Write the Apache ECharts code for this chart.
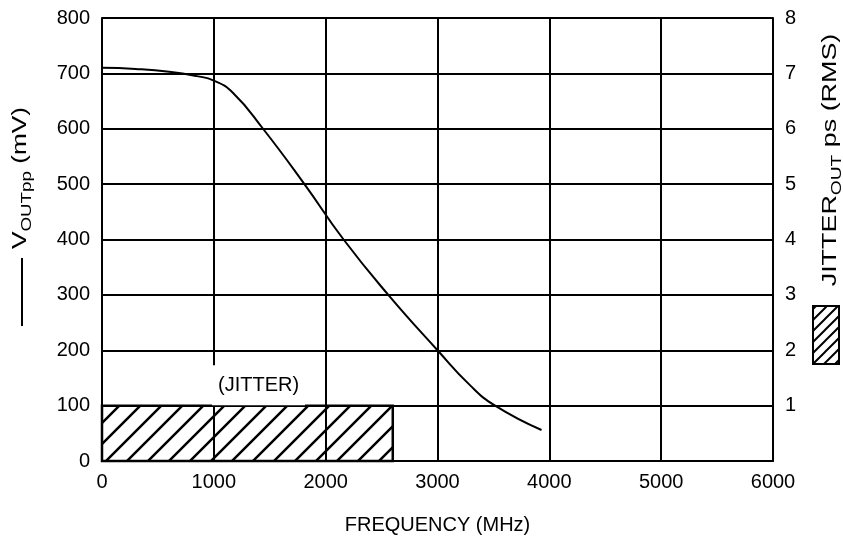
<!DOCTYPE html>
<html>
<head>
<meta charset="utf-8">
<script src="https://cdn.jsdelivr.net/npm/echarts@6/dist/echarts.min.js"></script>
<style>
html,body{margin:0;padding:0;background:#fff;}
#c{width:843px;height:537px;}
</style>
</head>
<body>
<div id="c"></div>
<script>
// ---- data ----
const freqMHz = [0, 300, 600, 850, 1000, 1170, 1440, 1810, 2160, 2560, 3000, 3290, 3515, 3930];
const voutPP  = [710, 708, 703, 695, 687, 665, 600, 500, 400, 300, 200, 137, 100, 56];
const jitterStart = [0];
const jitterEnd = [2600];
const jitterPs = [1];
const jitterLabel = ['(JITTER)'];
const jitterLabelPos = [[1400, 1.37]];
const xTicks = [0, 1000, 2000, 3000, 4000, 5000, 6000];
const leftTicks = [0, 100, 200, 300, 400, 500, 600, 700, 800];
const rightTicks = [0, 1, 2, 3, 4, 5, 6, 7, 8];

const FONT = 'Liberation Sans';
function hatch(size, lw) {
  const c = document.createElement('canvas');
  c.width = size; c.height = size;
  const g = c.getContext('2d');
  g.strokeStyle = '#000'; g.lineWidth = lw; g.lineCap = 'square';
  g.beginPath();
  g.moveTo(0, size); g.lineTo(size, 0);
  g.moveTo(-size, size); g.lineTo(size, -size);
  g.moveTo(0, 2 * size); g.lineTo(2 * size, 0);
  g.stroke();
  return c;
}
const bigHatch = { image: hatch(21, 2.5), repeat: 'repeat' };
const smallHatch = { image: hatch(11, 2), repeat: 'repeat' };

const chart = echarts.init(document.getElementById('c'), null, { renderer: 'canvas' });
const axisText = { color: '#000', fontFamily: FONT, fontSize: 20 };
const option = {
  animation: false,
  backgroundColor: '#fff',
  grid: { left: 102, right: 70, top: 18, bottom: 76, show: false, containLabel: false, outerBoundsMode: 'none' },
  xAxis: {
    type: 'value', min: xTicks[0], max: xTicks[xTicks.length - 1], interval: 1000,
    name: 'FREQUENCY (MHz)', nameLocation: 'middle', nameGap: 54,
    nameTextStyle: { color: '#000', fontFamily: FONT, fontSize: 20 },
    axisLine: { show: true, lineStyle: { color: '#000', width: 2 } },
    axisTick: { show: false },
    axisLabel: Object.assign({ margin: 11, formatter: v => String(v) }, axisText),
    splitLine: { show: true, lineStyle: { color: '#000', width: 2 } }
  },
  yAxis: [
    {
      type: 'value', min: leftTicks[0], max: leftTicks[leftTicks.length - 1], interval: 100,
      axisLine: { show: true, lineStyle: { color: '#000', width: 2 } },
      axisTick: { show: false },
      axisLabel: Object.assign({ margin: 12, formatter: v => String(v) }, axisText),
      splitLine: { show: true, lineStyle: { color: '#000', width: 2 } }
    },
    {
      type: 'value', min: rightTicks[0], max: rightTicks[rightTicks.length - 1], interval: 1,
      position: 'right',
      axisLine: { show: true, lineStyle: { color: '#000', width: 2 } },
      axisTick: { show: false },
      axisLabel: Object.assign({ margin: 12, formatter: v => (v === 0 ? '' : String(v)) }, axisText),
      splitLine: { show: false }
    }
  ],
  series: [
    {
      type: 'line', name: 'VOUTpp', yAxisIndex: 0, smooth: 0.5, showSymbol: false,
      lineStyle: { color: '#000', width: 2 }, itemStyle: { color: '#000' },
      data: freqMHz.map((f, i) => [f, voutPP[i]]), z: 4
    },
    {
      type: 'custom', name: 'JITTER', yAxisIndex: 1, z: 3,
      data: jitterStart.map((s, i) => [s, jitterEnd[i], jitterPs[i]]),
      encode: { x: [0, 1], y: 2 },
      renderItem: function (params, api) {
        const p0 = api.coord([api.value(0), 0]);
        const p1 = api.coord([api.value(1), api.value(2)]);
        return {
          type: 'rect',
          shape: { x: p0[0], y: p1[1], width: p1[0] - p0[0], height: p0[1] - p1[1] },
          style: { fill: bigHatch, stroke: '#000', lineWidth: 2.5 }
        };
      }
    },
    {
      type: 'scatter', yAxisIndex: 1, symbolSize: 0, z: 5,
      itemStyle: { opacity: 1, color: '#000' },
      data: jitterLabelPos.map((p, i) => ({ value: p, name: jitterLabel[i] })),
      label: {
        show: true, position: 'inside', formatter: p => p.name, opacity: 1,
        color: '#000', fontFamily: FONT, fontSize: 20,
        backgroundColor: '#fff', padding: [10, 6]
      }
    }
  ],
  graphic: [
    { type: 'line', shape: { x1: 22, y1: 258, x2: 22, y2: 326 }, style: { stroke: '#000', lineWidth: 2 } },
    {
      type: 'text', x: 20, y: 178, rotation: Math.PI / 2, scaleX: 1.25,
      style: {
        text: '{a|V}{b|OUTpp}{a| (mV)}', align: 'center', verticalAlign: 'middle',
        rich: {
          a: { fontFamily: FONT, fontSize: 21, color: '#000', verticalAlign: 'bottom' },
          b: { fontFamily: FONT, fontSize: 15, color: '#000', verticalAlign: 'bottom', padding: [0, 0, -4, 0] }
        }
      }
    },
    {
      type: 'text', x: 830, y: 160, rotation: Math.PI / 2, scaleX: 1.28,
      style: {
        text: '{a|JITTER}{b|OUT}{a| ps (RMS)}', align: 'center', verticalAlign: 'middle',
        rich: {
          a: { fontFamily: FONT, fontSize: 21, color: '#000', verticalAlign: 'bottom' },
          b: { fontFamily: FONT, fontSize: 15, color: '#000', verticalAlign: 'bottom', padding: [0, 0, -4, 0] }
        }
      }
    },
    { type: 'rect', shape: { x: 813, y: 306, width: 26, height: 58 }, style: { fill: smallHatch, stroke: '#000', lineWidth: 2 } }
  ]
};
chart.setOption(option);
</script>
</body>
</html>
